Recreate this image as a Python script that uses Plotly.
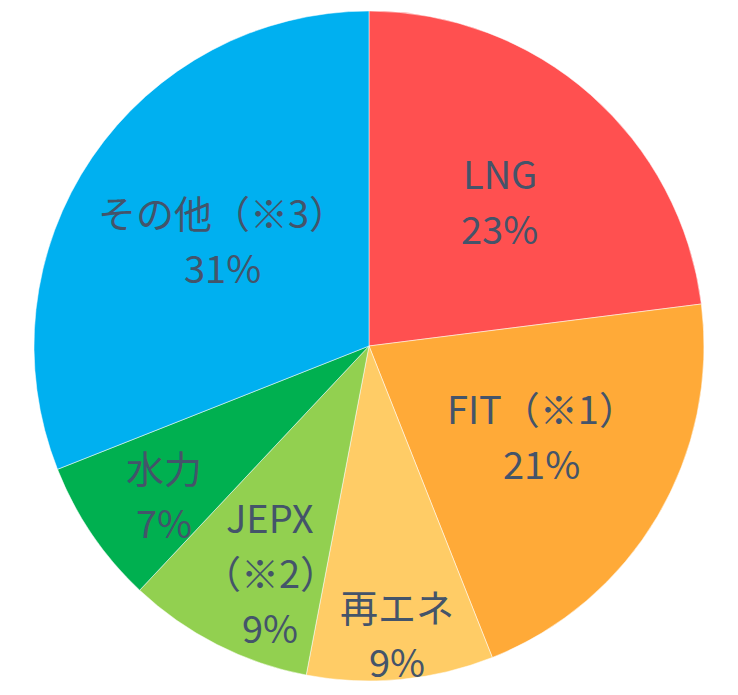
import math
import plotly.graph_objects as go

labels = ["LNG", "FIT（※1）", "再エネ", "JEPX（※2）", "水力", "その他（※3）"]
values = [23, 21, 9, 9, 7, 31]
colors = ["#FF5050", "#FFAA38", "#FFCC66", "#92D050", "#00B050", "#00B0F0"]
# how each label is split into lines inside its slice
label_lines = [["LNG"], ["FIT（※1）"], ["再エネ"], ["JEPX", "（※2）"], ["水力"], ["その他（※3）"]]
# label block placement (layout): radius as fraction of pie radius, angular nudge in degrees
label_radius = [0.585, 0.58, 0.86, 0.735, 0.755, 0.54]
label_angle_shift = [0.5, -3.2, -0.2, -3.3, -1.6, 1.9]

W, H = 738, 695
# page body offset of the rendered html (default 8px margin) is compensated here
off = 8
cx, cy, R = 369 - off, 346 - off, 335
line_gap = 55
text_color = "#44546A"
font_family = "Noto Sans CJK JP"
font_size = 38

fig = go.Figure(go.Pie(
    labels=labels,
    values=values,
    sort=False,
    direction="clockwise",
    rotation=0,
    marker=dict(colors=colors, line=dict(color="rgba(255,255,255,0.5)", width=1)),
    textinfo="none",
    domain=dict(x=[(cx - R) / W, (cx + R) / W], y=[(H - cy - R) / H, (H - cy + R) / H]),
    showlegend=False,
    hoverinfo="label+percent",
))

total = sum(values)
annotations = []
cum = 0
for lab_lines, v, rf, da in zip(label_lines, values, label_radius, label_angle_shift):
    mid = (cum + v / 2) / total * 2 * math.pi + math.radians(da)
    cum += v
    px = cx + rf * R * math.sin(mid)
    py = cy - rf * R * math.cos(mid)
    lines = lab_lines + [f"{round(v / total * 100)}%"]
    n = len(lines)
    for i, t in enumerate(lines):
        annotations.append(dict(
            x=px / W, y=(H - py) / H, xref="paper", yref="paper",
            text=t, showarrow=False,
            xanchor="center", yanchor="middle",
            yshift=((n - 1) / 2 - i) * line_gap,
            font=dict(family=font_family, size=font_size, color=text_color),
        ))

fig.update_layout(
    width=W, height=H,
    margin=dict(l=0, r=0, t=0, b=0),
    paper_bgcolor="white",
    plot_bgcolor="white",
    annotations=annotations,
)

fig.write_html("out.html")
